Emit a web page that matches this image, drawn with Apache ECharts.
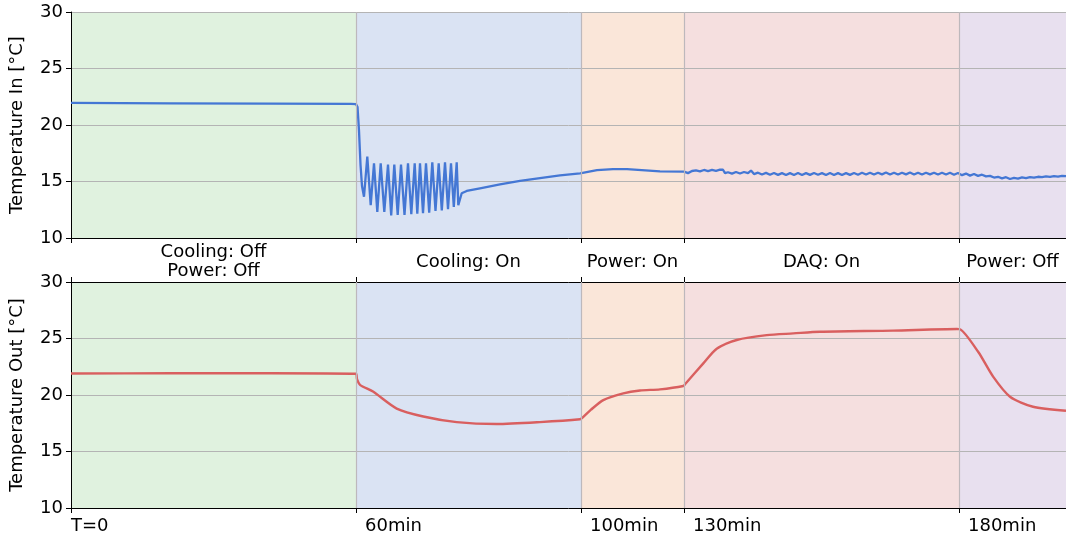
<!DOCTYPE html>
<html><head><meta charset="utf-8">
<script src="https://cdn.jsdelivr.net/npm/echarts@6/dist/echarts.min.js"></script>
<style>html,body{margin:0;padding:0;background:#fff}#c{width:1066px;height:543px}</style>
</head><body><div id="c"></div>
<script>
// x is in sample units (phase boundaries)
const xMax = 995;
const boundaries = [0, 285, 510, 613, 888];
const boundaryLabels = ['T=0', '60min', '100min', '130min', '180min'];
const phaseNames = ['Cooling: Off\nPower: Off', 'Cooling: On', 'Power: On', 'DAQ: On', 'Power: Off'];
const yTicks = [10, 15, 20, 25, 30];

const tempIn = [
  [0,21.95],[100,21.92],[200,21.9],[280,21.87],[285,21.85],
  [286.5,21.6],[288,19.5],[289.5,16.5],[291,14.6],[293,13.65],
  [296.3,17.2],[299.7,12.9],[303,16.6],[306.3,12.3],[309.7,16.6],[313.3,12.3],
  [317,16.5],[320.2,12.0],[323.3,16.5],[326.7,12.05],[330,16.5],[333.5,12.05],
  [337,16.6],[340.3,12.1],[343.7,16.6],[346.3,12.15],[349,16.6],[352,12.2],
  [355,16.6],[358.2,12.25],[361.3,16.7],[364.5,12.4],[367.7,16.6],[370.8,12.45],
  [374,16.7],[377,12.55],[380,16.6],[382.8,12.75],[385.7,16.7],[387.3,12.9],
  [390.7,13.96],[395.7,14.16],[409,14.4],[429,14.75],[449,15.05],[469,15.3],
  [489,15.55],[509,15.72],[526,16.0],[542,16.1],[556,16.1],[589,15.9],
  [613,15.87],[617,15.74],[621,15.93],[625,15.98],[629,15.9],[633,16.02],[637,15.92],
  [641,16.02],[645,15.94],[649,16.05],[652,16.04],[654,15.74],[657,15.82],[661,15.7],
  [665,15.84],[669,15.71],[673,15.84],[677,15.74],[680,15.97],[683,15.66],[687,15.78],
  [691,15.62],[695,15.76],[699,15.6],[703,15.75],[707,15.59],[711,15.74],[715,15.58],
  [719,15.74],[723,15.58],[727,15.75],[731,15.58],[735,15.74],[739,15.59],[743,15.75],
  [747,15.6],[751,15.74],[755,15.58],[759,15.75],[763,15.58],[767,15.74],[771,15.58],
  [775,15.74],[779,15.59],[783,15.75],[787,15.6],[791,15.77],[795,15.62],[799,15.78],
  [803,15.62],[807,15.78],[811,15.63],[815,15.79],[819,15.62],[823,15.78],[827,15.62],
  [831,15.78],[835,15.63],[839,15.79],[843,15.62],[847,15.78],[851,15.62],[855,15.78],
  [859,15.63],[863,15.78],[867,15.62],[871,15.77],[875,15.62],[879,15.77],[883,15.6],
  [887,15.75],[891,15.56],[895,15.7],[899,15.52],[903,15.66],[907,15.5],[911,15.6],
  [915,15.45],[919,15.5],[923,15.35],[927,15.42],[931,15.28],[935,15.38],[939,15.22],
  [943,15.32],[947,15.25],[951,15.36],[955,15.3],[959,15.38],[963,15.34],[967,15.42],
  [971,15.38],[975,15.45],[979,15.41],[983,15.47],[987,15.44],[991,15.5],[995,15.48]
];

const tempOut = [
  [0,21.9],[100,21.92],[200,21.93],[285,21.88],[286,21.4],[289,20.9],[302,20.3],
  [325.7,18.8],[352.3,18.1],[385.7,17.6],[425.7,17.43],[469,17.6],[509,17.85],
  [511,17.95],[520,18.7],[532.3,19.55],[552.3,20.15],[569,20.4],[589,20.5],
  [612.3,20.8],[614,20.95],[632.3,22.8],[645.7,24.1],[665.7,24.87],[695.7,25.3],
  [722.3,25.45],[749,25.6],[822,25.7],[886,25.84],[889,25.82],[907.3,23.8],
  [922.3,21.6],[939,19.85],[962,18.96],[995,18.6]
];

const regionColors = ['#e0f2df', '#dae3f3', '#fae6d9', '#f5dfdf', '#e8e0ef'];
const FONT = 'DejaVu Sans';
const FS = 18;
const regionEnds = boundaries.slice(1).concat([xMax]);
const midpoints = boundaries.map((b, i) => (b + regionEnds[i]) / 2);

function bgSeries(idx) {
  return {
    type: 'line', xAxisIndex: idx === 0 ? 0 : 1, yAxisIndex: idx, data: [], z: 1, silent: true,
    markArea: {
      silent: true,
      data: boundaries.map((b, i) => [
        { xAxis: b, itemStyle: { color: regionColors[i] } },
        { xAxis: regionEnds[i] }
      ])
    },
    markLine: {
      silent: true, symbol: 'none', label: { show: false },
      lineStyle: { color: '#bdb8bc', width: 1.2, type: 'solid' },
      data: boundaries.slice(1).map(b => ({ xAxis: b }))
    }
  };
}

const axisLineStyle = { show: true, lineStyle: { color: '#000', width: 1 } };
function yAx(idx, name) {
  return {
    gridIndex: idx, type: 'value', min: 10, max: 30, interval: 5, z: 2,
    name: name, nameLocation: 'middle', nameGap: 45, nameRotate: 90,
    nameTextStyle: { fontFamily: FONT, fontSize: FS, color: '#000' },
    axisLine: axisLineStyle,
    axisTick: { show: true, inside: false, length: 5, lineStyle: { color: '#000' } },
    axisLabel: { fontFamily: FONT, fontSize: FS, color: '#000', margin: 8,
      formatter: v => yTicks.includes(v) ? String(v) : '' },
    splitLine: { show: true, lineStyle: { color: '#b4b4b4', width: 1 } }
  };
}

const option = {
  animation: false,
  backgroundColor: '#fff',
  grid: [
    { left: 71, right: 0, top: 12, height: 226 },
    { left: 71, right: 0, top: 282, height: 226 }
  ],
  xAxis: [
    { gridIndex: 0, type: 'value', min: 0, max: xMax, position: 'bottom', z: 2,
      axisLine: axisLineStyle,
      axisTick: { show: true, customValues: boundaries, length: 5, lineStyle: { color: '#000' } },
      axisLabel: { customValues: midpoints, fontFamily: FONT, fontSize: FS, color: '#000',
        margin: 24, verticalAlign: 'middle', lineHeight: 19, align: 'center',
        formatter: v => { const i = midpoints.indexOf(v); return i >= 0 ? phaseNames[i] : ''; } },
      splitLine: { show: false } },
    { gridIndex: 1, type: 'value', min: 0, max: xMax, position: 'bottom', z: 2,
      axisLine: axisLineStyle,
      axisTick: { show: true, customValues: boundaries, length: 5, lineStyle: { color: '#000' } },
      axisLabel: { customValues: boundaries, fontFamily: FONT, fontSize: FS, color: '#000',
        margin: 9, align: 'left',
        formatter: v => { const i = boundaries.indexOf(v); return i < 0 ? '' : (i === 0 ? '{f|' + boundaryLabels[i] + '}' : '{o|' + boundaryLabels[i] + '}'); },
        rich: { f: { fontFamily: FONT, fontSize: FS, color: '#000' },
                o: { fontFamily: FONT, fontSize: FS, color: '#000', padding: [0, 0, 0, 9] } } },
      splitLine: { show: false } },
    { gridIndex: 1, type: 'value', min: 0, max: xMax, position: 'top', z: 2,
      axisLine: axisLineStyle,
      axisTick: { show: true, customValues: boundaries, length: 5, lineStyle: { color: '#000' } },
      axisLabel: { show: false }, splitLine: { show: false } }
  ],
  yAxis: [ yAx(0, 'Temperature In [°C]'), yAx(1, 'Temperature Out [°C]') ],
  series: [
    bgSeries(0), bgSeries(1),
    { type: 'line', xAxisIndex: 0, yAxisIndex: 0, data: tempIn, showSymbol: false, z: 3,
      lineStyle: { color: '#4477d4', width: 2.3 }, itemStyle: { color: '#4477d4' } },
    { type: 'line', xAxisIndex: 1, yAxisIndex: 1, data: tempOut, showSymbol: false, z: 3, smooth: 0.25,
      lineStyle: { color: '#d95f5f', width: 2.4 }, itemStyle: { color: '#d95f5f' } }
  ]
};
echarts.init(document.getElementById('c'), null, { renderer: 'canvas' }).setOption(option);
</script></body></html>
